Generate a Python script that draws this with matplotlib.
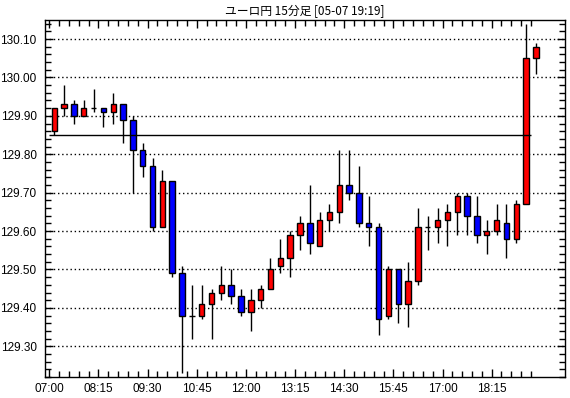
import numpy as np
import matplotlib
matplotlib.use('Agg')
import matplotlib.pyplot as plt
from matplotlib.ticker import MultipleLocator, FormatStrFormatter

# 15-minute candles, 07:00 .. 19:15
opens = [129.86, 129.92, 129.93, 129.90, 129.92, 129.92, 129.91, 129.93, 129.89, 129.81,
         129.77, 129.61, 129.73, 129.49, 129.38, 129.38, 129.41, 129.44, 129.46, 129.43,
         129.39, 129.42, 129.45, 129.51, 129.53, 129.59, 129.62, 129.56, 129.63, 129.65,
         129.72, 129.70, 129.62, 129.61, 129.38, 129.50, 129.41, 129.47, 129.61, 129.61,
         129.63, 129.65, 129.69, 129.64, 129.59, 129.60, 129.62, 129.58, 129.67, 130.05]
closes = [129.92, 129.93, 129.90, 129.92, 129.92, 129.91, 129.93, 129.89, 129.81, 129.77,
          129.61, 129.73, 129.49, 129.38, 129.38, 129.41, 129.44, 129.46, 129.43, 129.39,
          129.42, 129.45, 129.50, 129.53, 129.59, 129.62, 129.57, 129.63, 129.65, 129.72,
          129.70, 129.62, 129.61, 129.37, 129.50, 129.41, 129.47, 129.61, 129.61, 129.63,
          129.65, 129.69, 129.64, 129.59, 129.60, 129.63, 129.58, 129.67, 130.05, 130.08]
highs = [129.92, 129.98, 129.94, 129.94, 129.97, 129.92, 129.96, 129.93, 129.90, 129.83,
         129.79, 129.76, 129.73, 129.51, 129.46, 129.46, 129.45, 129.51, 129.50, 129.45,
         129.45, 129.46, 129.53, 129.58, 129.60, 129.64, 129.72, 129.65, 129.67, 129.81,
         129.81, 129.77, 129.69, 129.62, 129.51, 129.50, 129.52, 129.66, 129.64, 129.66,
         129.67, 129.70, 129.70, 129.69, 129.63, 129.67, 129.67, 129.68, 130.14, 130.09]
lows = [129.85, 129.90, 129.88, 129.90, 129.91, 129.87, 129.88, 129.83, 129.70, 129.74,
        129.60, 129.61, 129.48, 129.23, 129.32, 129.37, 129.32, 129.42, 129.41, 129.38,
        129.34, 129.40, 129.45, 129.49, 129.48, 129.55, 129.54, 129.56, 129.60, 129.62,
        129.68, 129.61, 129.56, 129.33, 129.37, 129.36, 129.35, 129.46, 129.55, 129.57,
        129.56, 129.59, 129.59, 129.57, 129.54, 129.59, 129.53, 129.57, 129.67, 130.01]
time_labels = ['07:00', '08:15', '09:30', '10:45', '12:00', '13:15', '14:30', '15:45', '17:00', '18:15']
ref_level = 129.85
title = 'ユーロ円 15分足 [05-07 19:19]'

plt.rcParams['font.family'] = ['Liberation Sans', 'DejaVu Sans']

fig = plt.figure(figsize=(5.7, 3.98), dpi=100)
ax = fig.add_axes([45/570, 21/398, 520/570, 357/398])

n = len(opens)
xs = np.arange(n) + 0.5
w = 0.55
for x, o, c, h, l in zip(xs, opens, closes, highs, lows):
    ax.vlines(x, l, h, color='black', lw=1, zorder=2)
    if abs(c - o) < 1e-9:
        ax.hlines(o, x - w/2, x + w/2, color='black', lw=1, zorder=3)
    else:
        col = '#ff0000' if c > o else '#0000ff'
        ax.bar(x, abs(c - o), w, bottom=min(o, c), color=col,
               edgecolor='black', lw=1, zorder=3)

ax.hlines(ref_level, 0, 49, color='black', lw=1, zorder=4)

ax.set_xlim(-0.44, 52.46)
ax.set_ylim(129.22, 130.1495)

ax.set_xticks(np.arange(0, 50), minor=True)
ax.set_xticks(np.arange(0, 50, 5))
ax.set_xticklabels(time_labels)
ax.yaxis.set_major_locator(MultipleLocator(0.1))
ax.yaxis.set_minor_locator(MultipleLocator(0.02))
ax.yaxis.set_major_formatter(FormatStrFormatter('%.2f'))
ax.tick_params(which='both', direction='in', top=True, right=True, labelsize=8.5, width=1)
ax.tick_params(which='major', length=6)
ax.tick_params(which='minor', length=4)
ax.tick_params(axis='y', pad=6)
ax.tick_params(axis='x', pad=4)
ax.grid(axis='y', which='major', color='black', ls=(0, (1, 2)), lw=1)
for s in ax.spines.values():
    s.set_linewidth(1)

fig.text(0.535, 0.972, title, ha='center', va='center', fontsize=8.5,
         family=['Noto Sans CJK JP', 'DejaVu Sans'])

fig.savefig('out.png', dpi=100)
